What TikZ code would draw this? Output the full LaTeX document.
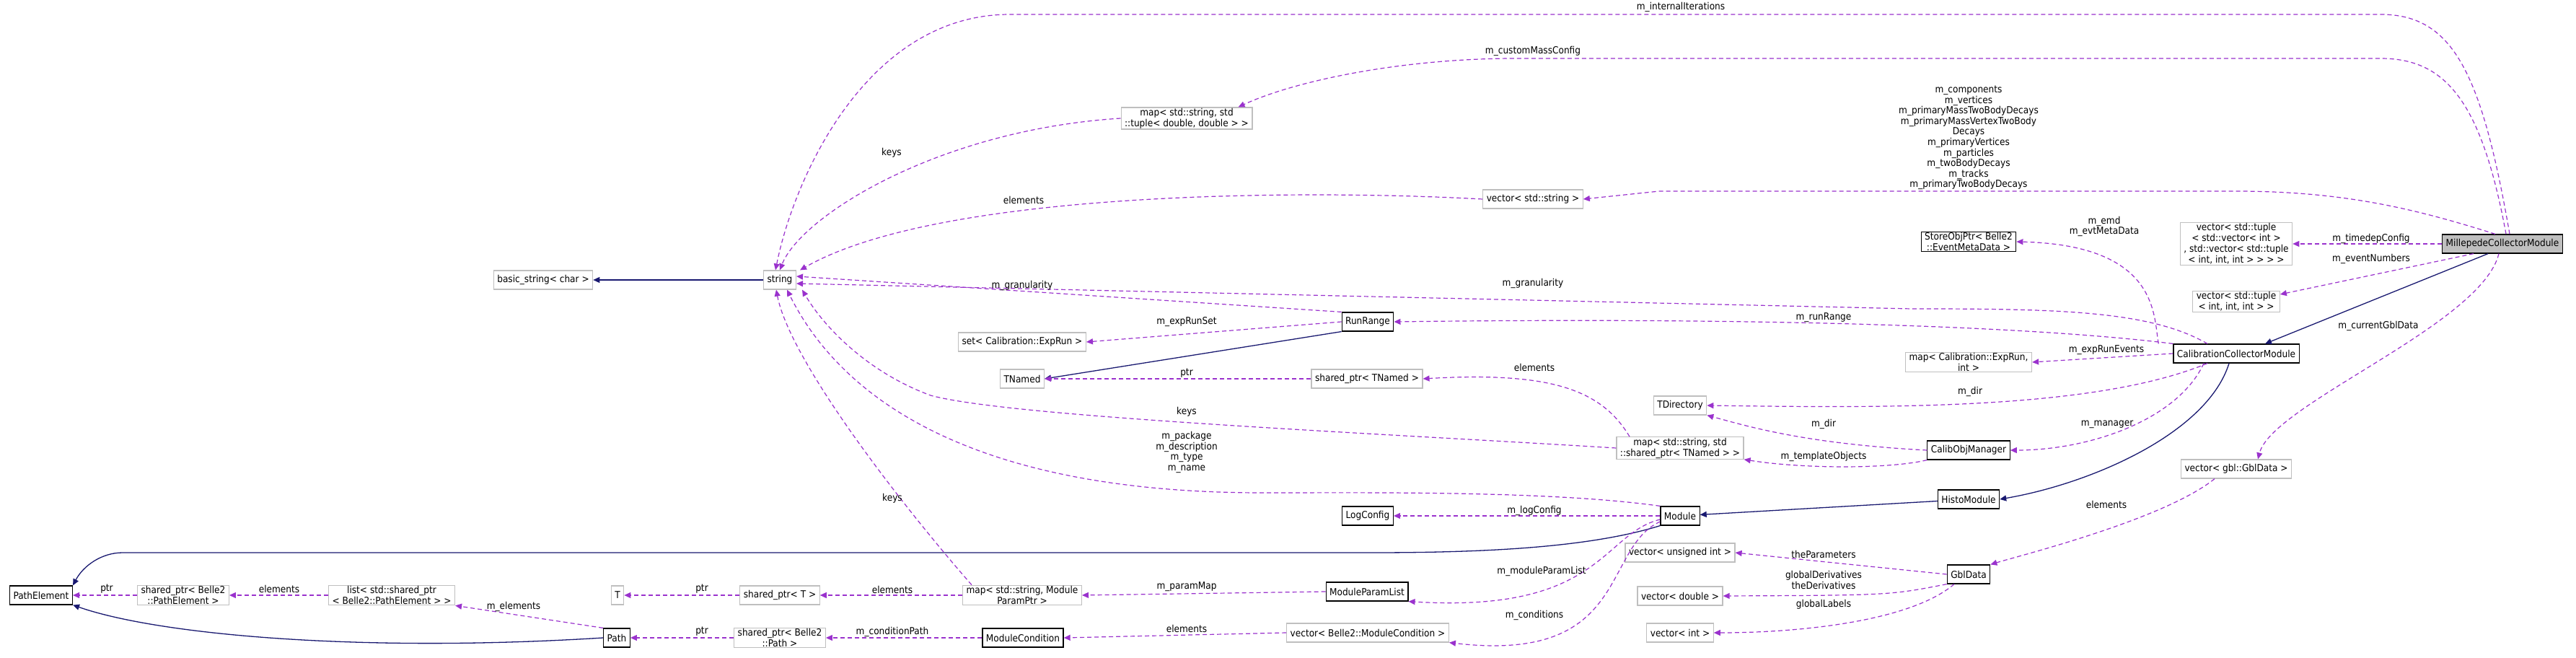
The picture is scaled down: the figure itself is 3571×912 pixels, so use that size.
\documentclass[tikz,border=0pt]{standalone}
\usepackage{fontspec}
\setmainfont{DejaVu Sans Condensed}
\usetikzlibrary{arrows.meta}
\definecolor{depcol}{HTML}{9A32CD}
\definecolor{inhcol}{HTML}{191970}
\definecolor{boxgray}{HTML}{BFBFBF}
\tikzset{
  gbox/.style={draw=boxgray,line width=1.2pt,fill=white,inner xsep=5pt,inner ysep=1pt,minimum height=26pt,align=center,font=\fontsize{13.5}{15}\selectfont},
  bbox/.style={gbox,draw=black},
  dep/.style={draw=depcol,line width=1.2pt,dash pattern=on 6pt off 4pt,-{Triangle[length=9pt,width=8pt]}},
  inh/.style={draw=inhcol,line width=1.3pt,-{Triangle[length=9pt,width=8pt]}},
  lbl/.style={align=center,font=\fontsize{13.5}{14.6}\selectfont,inner sep=0pt}
}
\begin{document}
\begin{tikzpicture}[x=1pt,y=-1pt]
  \useasboundingbox (0,0) rectangle (3571,912);
  % classes
  \node[bbox] (PathElement) at (57,825) {PathElement};
  \node[gbox] (spPE) at (254,825) {shared\_ptr< Belle2\\::PathElement >};
  \node[gbox] (listPE) at (543,825) {list< std::shared\_ptr\\< Belle2::PathElement > >};
  \node[bbox] (Path) at (855,884) {Path};
  \node[gbox] (T) at (856,825) {T};
  \node[gbox] (spT) at (1081,825) {shared\_ptr< T >};
  \node[gbox] (spPath) at (1081,884) {shared\_ptr< Belle2\\::Path >};
  \node[gbox] (mapMP) at (1417,825) {map< std::string, Module\\ParamPtr >};
  \node[bbox] (ModCond) at (1418,884) {ModuleCondition};
  \node[bbox] (MPL) at (1895,820) {ModuleParamList};
  \node[gbox] (vecMC) at (1896,877) {vector< Belle2::ModuleCondition >};
  \node[bbox] (LogConfig) at (1896,715) {LogConfig};
  \node[bbox] (Module) at (2329,715) {Module};
  \node[bbox] (HistoModule) at (2729,692) {HistoModule};
  \node[gbox] (vecUI) at (2329,766) {vector< unsigned int >};
  \node[gbox] (vecD) at (2329,826) {vector< double >};
  \node[gbox] (vecI) at (2329,877) {vector< int >};
  \node[bbox] (GblData) at (2729,796) {GblData};
  \node[gbox] (vecGbl) at (3100,650) {vector< gbl::GblData >};
  \node[bbox] (CCM) at (3100,490) {CalibrationCollectorModule};
  \node[gbox] (mapER) at (2729,502) {map< Calibration::ExpRun,\\int >};
  \node[gbox] (TDirectory) at (2329,562) {TDirectory};
  \node[gbox] (mapTN) at (2329,621) {map< std::string, std\\::shared\_ptr< TNamed > >};
  \node[bbox] (CalibObj) at (2729,624) {CalibObjManager};
  \node[gbox] (spTN) at (1895,525) {shared\_ptr< TNamed >};
  \node[gbox] (TNamed) at (1417,525) {TNamed};
  \node[gbox] (setER) at (1417,474) {set< Calibration::ExpRun >};
  \node[bbox] (RunRange) at (1896,446) {RunRange};
  \node[gbox] (string) at (1081,388) {string};
  \node[gbox] (basicstr) at (753,388) {basic\_string< char >};
  \node[gbox] (mapTup) at (1645,164) {map< std::string, std\\::tuple< double, double > >};
  \node[gbox] (vecS) at (2125,276) {vector< std::string >};
  \node[bbox] (StoreObj) at (2729,335) {StoreObjPtr< Belle2\\::EventMetaData >};
  \node[gbox] (vecTT) at (3100,338) {vector< std::tuple\\< std::vector< int >\\, std::vector< std::tuple\\< int, int, int > > > >};
  \node[gbox] (vecT3) at (3100,418) {vector< std::tuple\\< int, int, int > >};
  \node[bbox,fill=boxgray] (MCM) at (3469,338) {MillepedeCollectorModule};
  % inheritance
  \draw[inh] (string) -- (basicstr);
  \draw[inh] (RunRange.south west) -- (TNamed.east);
  \draw[inh] (Module.south west) .. controls (2200,760) and (2050,766) .. (1900,766)
    -- (170,766) .. controls (140,766) and (115,785) .. (PathElement.north east);
  \draw[inh] (Path.west) .. controls (500,905) and (220,880) .. (PathElement.south east);
  \draw[inh] (HistoModule) -- (Module);
  \draw[inh] ([xshift=-10pt]CCM.south) .. controls (3060,600) and (2900,670) .. (HistoModule.east);
  \draw[inh] ([xshift=-20pt]MCM.south) -- ([xshift=40pt]CCM.north);
  % members
  \draw[dep] ([xshift=10pt]MCM.north) .. controls (3440,100) and (3400,20) .. (3300,20)
    -- (1400,20) .. controls (1200,20) and (1100,250) .. ([xshift=-6pt]string.north);
  \draw[dep] ([xshift=5pt]MCM.north) .. controls (3440,140) and (3390,81) .. (3300,81)
    -- (2100,81) .. controls (1950,81) and (1800,110) .. ([xshift=-20pt]mapTup.north east);
  \draw[dep] (mapTup.west) .. controls (1300,180) and (1110,300) .. (string.north);
  \draw[dep] ([xshift=-10pt]MCM.north) .. controls (3350,290) and (3250,265) .. (3100,265)
    -- (2300,265) -- (vecS.east);
  \draw[dep] (vecS.west) .. controls (1800,262) and (1300,265) .. ([xshift=5pt]string.north east);
  \draw[dep] (MCM.west) -- (vecTT.east);
  \draw[dep] ([xshift=-40pt]MCM.south) -- ([yshift=-5pt]vecT3.north east);
  \draw[dep] ([xshift=-5pt]MCM.south) .. controls (3440,450) and (3150,560) .. ([xshift=30pt]vecGbl.north);
  \draw[dep] ([xshift=-30pt]vecGbl.south) .. controls (3000,720) and (2800,770) .. (GblData.north east);
  \draw[dep] (GblData.west) -- (vecUI.east);
  \draw[dep] (GblData.south west) .. controls (2620,825) .. (vecD.east);
  \draw[dep] ([xshift=-20pt]GblData.south) .. controls (2650,860) and (2500,877) .. (vecI.east);
  \draw[dep] ([xshift=-20pt]CCM.north west) .. controls (2985,440) and (2995,340) .. (StoreObj.east);
  \draw[dep] ([xshift=-40pt]CCM.north) .. controls (2980,430) and (2850,428) .. (2650,428)
    -- ([yshift=-5pt]string.east);
  \draw[dep] (CCM.north west) .. controls (2800,450) and (2400,440) .. (RunRange.east);
  \draw[dep] (CCM.west) -- (mapER.east);
  \draw[dep] ([xshift=-40pt]CCM.south) .. controls (2900,570) and (2600,565) .. (TDirectory.east);
  \draw[dep] ([xshift=-45pt]CCM.south) .. controls (3020,580) and (2900,624) .. (CalibObj.east);
  \draw[dep] (CalibObj.west) .. controls (2500,615) and (2420,590) .. (TDirectory.south east);
  \draw[dep] (CalibObj.south west) .. controls (2620,650) and (2500,650) .. (mapTN.south east);
  \draw[dep] (mapTN.west) .. controls (1900,600) and (1400,578) .. (1290,548)
    .. controls (1200,515) and (1140,450) .. ([xshift=8pt]string.south east);
  \draw[dep] ([xshift=-70pt]mapTN.north) .. controls (2220,540) and (2150,515) .. (spTN.east);
  \draw[dep] (spTN.west) -- (TNamed.east);
  \draw[dep] (RunRange.north west) -- ([yshift=5pt]string.east);
  \draw[dep] (RunRange.west) -- (setER.east);
  \draw[dep] (Module.north west) .. controls (2150,680) and (1900,683) .. (1750,683)
    .. controls (1300,683) and (1150,520) .. ([xshift=10pt]string.south);
  \draw[dep] ([xshift=-70pt]mapMP.north) .. controls (1250,700) and (1095,500) .. ([xshift=-5pt]string.south);
  \draw[dep] (Module.west) -- (LogConfig.east);
  \draw[dep] ([yshift=-5pt]Module.west) .. controls (2220,740) and (2220,850) .. (MPL.south east);
  \draw[dep] ([yshift=-8pt]Module.west) .. controls (2220,760) and (2260,920) .. (vecMC.south east);
  \draw[dep] (MPL.west) -- (mapMP.east);
  \draw[dep] (mapMP.west) -- (spT.east);
  \draw[dep] (spT.west) -- (T.east);
  \draw[dep] (vecMC.west) -- (ModCond.east);
  \draw[dep] (ModCond.west) -- (spPath.east);
  \draw[dep] (spPath.west) -- (Path.east);
  \draw[dep] (Path.north west) -- (listPE.south east);
  \draw[dep] (listPE.west) -- (spPE.east);
  \draw[dep] (spPE.west) -- (PathElement.east);
  % labels
  \node[lbl] (l01) at (2330,10) {m\_internalIterations};
  \node[lbl] (l02) at (2125,71) {m\_customMassConfig};
  \node[lbl] (l03) at (1236,212) {keys};
  \node[lbl] (l04) at (2729,191) {m\_components\\m\_vertices\\m\_primaryMassTwoBodyDecays\\m\_primaryMassVertexTwoBody\\Decays\\m\_primaryVertices\\m\_particles\\m\_twoBodyDecays\\m\_tracks\\m\_primaryTwoBodyDecays};
  \node[lbl] (l05) at (1419,277) {elements};
  \node[lbl] (l06) at (2917,314) {m\_emd\\m\_evtMetaData};
  \node[lbl] (l07) at (3287,331) {m\_timedepConfig};
  \node[lbl] (l08) at (3287,359) {m\_eventNumbers};
  \node[lbl] (l09) at (3297,452) {m\_currentGblData};
  \node[lbl] (l10) at (1417,396) {m\_granularity};
  \node[lbl] (l11) at (2125,393) {m\_granularity};
  \node[lbl] (l12) at (2528,440) {m\_runRange};
  \node[lbl] (l13) at (1645,446) {m\_expRunSet};
  \node[lbl] (l14) at (2920,485) {m\_expRunEvents};
  \node[lbl] (l15) at (2127,509) {elements};
  \node[lbl] (l16) at (1645,517) {ptr};
  \node[lbl] (l17) at (2731,543) {m\_dir};
  \node[lbl] (l18) at (1645,571) {keys};
  \node[lbl] (l19) at (2528,588) {m\_dir};
  \node[lbl] (l20) at (2921,588) {m\_manager};
  \node[lbl] (l21) at (1645,627) {m\_package\\m\_description\\m\_type\\m\_name};
  \node[lbl] (l22) at (2528,633) {m\_templateObjects};
  \node[lbl] (l23) at (1237,691) {keys};
  \node[lbl] (l24) at (2920,699) {elements};
  \node[lbl] (l25) at (2127,708) {m\_logConfig};
  \node[lbl] (l26) at (2528,768) {theParameters};
  \node[lbl] (l27) at (2137,792) {m\_moduleParamList};
  \node[lbl] (l28) at (2528,804) {globalDerivatives\\theDerivatives};
  \node[lbl] (l29) at (1645,813) {m\_paramMap};
  \node[lbl] (l30) at (1237,817) {elements};
  \node[lbl] (l31) at (148,816) {ptr};
  \node[lbl] (l32) at (387,816) {elements};
  \node[lbl] (l33) at (973,816) {ptr};
  \node[lbl] (l34) at (712,841) {m\_elements};
  \node[lbl] (l35) at (2528,838) {globalLabels};
  \node[lbl] (l36) at (2127,853) {m\_conditions};
  \node[lbl] (l37) at (1645,871) {elements};
  \node[lbl] (l38) at (1237,876) {m\_conditionPath};
  \node[lbl] (l39) at (973,875) {ptr};
\end{tikzpicture}
\end{document}
